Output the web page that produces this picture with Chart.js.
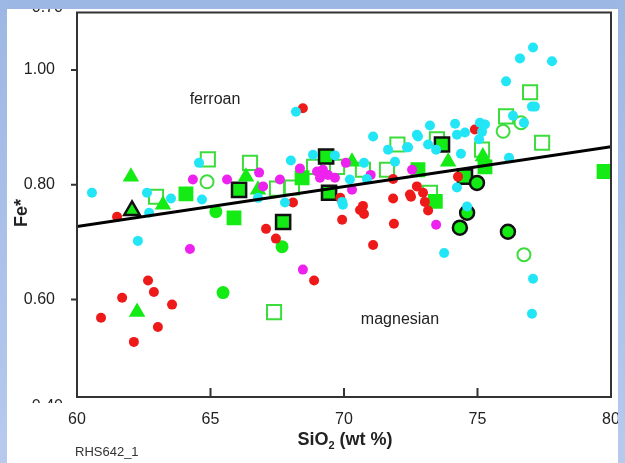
<!DOCTYPE html>
<html>
<head>
<meta charset="utf-8">
<script src="https://cdn.jsdelivr.net/npm/chart.js@4/dist/chart.umd.min.js"></script>
<style>
  html, body { margin: 0; padding: 0; background: #fff; }
  #wrap { position: relative; width: 625px; height: 463px; overflow: hidden; }
  #chart { position: absolute; left: 0; top: 0; }
  .band { position: absolute; z-index: 2; }
  #top { left: 0; top: 0; width: 625px; height: 9px; background: #9db7e4; }
  #left { left: 0; top: 0; width: 7px; height: 463px; background: linear-gradient(#9db7e4, #b7caee); }
  #right { right: 0; top: 0; width: 7px; height: 463px; background: linear-gradient(#9db7e4, #b7caee); }
</style>
</head>
<body>
<div id="wrap">
  <canvas id="chart" width="625" height="463"></canvas>
  <div class="band" id="top"></div>
  <div class="band" id="left"></div>
  <div class="band" id="right"></div>
</div>
<script>
// axis
const xTicks = [60, 65, 70, 75, 80];
const yTicks = [0.60, 0.80, 1.00];

// regression line end points
const trendX = [60, 80];
const trendY = [0.727, 0.866];

// samples, [SiO2, Fe*]
const cyanPts = [
  [60.56, 0.786], [62.62, 0.786], [63.52, 0.776], [62.70, 0.751], [64.68, 0.774], [64.57, 0.838],
  [62.28, 0.702], [66.78, 0.777], [68.01, 0.842], [67.79, 0.769], [68.84, 0.852], [69.66, 0.851],
  [70.22, 0.809], [69.93, 0.770], [69.96, 0.765], [70.75, 0.838], [70.86, 0.810], [71.09, 0.884],
  [71.65, 0.861], [71.91, 0.840], [72.40, 0.865], [72.73, 0.887], [73.22, 0.903], [72.77, 0.884],
  [73.15, 0.870], [73.45, 0.861], [72.36, 0.865], [74.16, 0.906], [74.53, 0.891], [74.23, 0.887],
  [75.09, 0.908], [75.28, 0.905], [75.17, 0.892], [75.06, 0.879], [74.38, 0.854], [76.18, 0.847],
  [77.08, 1.039], [76.59, 1.020], [77.79, 1.015], [76.07, 0.980], [77.04, 0.936], [77.15, 0.936],
  [76.33, 0.920], [76.74, 0.908], [74.23, 0.795], [74.61, 0.762], [73.75, 0.681], [77.08, 0.636],
  [77.04, 0.575], [68.20, 0.927]
];
const redPts = [
  [61.50, 0.744], [68.09, 0.769], [67.08, 0.723], [67.45, 0.706], [69.86, 0.777], [69.93, 0.739],
  [70.71, 0.763], [70.60, 0.756], [70.75, 0.749], [71.09, 0.695], [71.84, 0.810], [71.84, 0.776],
  [71.87, 0.732], [72.51, 0.779], [72.73, 0.797], [72.47, 0.783], [72.96, 0.786], [73.03, 0.770],
  [73.15, 0.755], [74.90, 0.896], [74.27, 0.814], [62.66, 0.633], [62.88, 0.613], [61.69, 0.603],
  [63.56, 0.591], [60.90, 0.568], [63.03, 0.552], [62.13, 0.526], [68.88, 0.633], [68.46, 0.933]
];
const magentaPts = [
  [64.34, 0.809], [65.62, 0.809], [64.23, 0.688], [66.82, 0.821], [66.97, 0.797], [67.60, 0.809],
  [68.35, 0.828], [68.99, 0.823], [69.21, 0.826], [69.40, 0.817], [69.10, 0.812], [69.66, 0.812],
  [70.07, 0.838], [70.30, 0.791], [71.00, 0.817], [72.55, 0.826], [73.45, 0.730], [68.46, 0.652]
];
const greenDots = [[65.20, 0.753], [67.68, 0.692], [65.47, 0.612]];
const greenRingedDots = [[74.98, 0.803], [74.61, 0.751], [74.34, 0.725], [76.14, 0.718]];
const greenRings = [[64.87, 0.805], [75.96, 0.893], [76.63, 0.908], [76.74, 0.678]];
const greenTriangles = [
  [62.02, 0.814], [63.22, 0.765], [66.33, 0.814], [62.25, 0.578], [70.30, 0.840], [73.90, 0.840],
  [75.20, 0.849], [66.78, 0.791]
];
const greenRingedTriangles = [[62.06, 0.755]];
const greenSquares = [
  [64.08, 0.784], [65.88, 0.742], [68.43, 0.812], [72.77, 0.826], [73.42, 0.771], [75.28, 0.831],
  [79.74, 0.823]
];
const greenRingedSquares = [
  [66.07, 0.791], [67.72, 0.735], [69.33, 0.849], [69.44, 0.786], [73.67, 0.870], [74.53, 0.814]
];
const greenOpenSquares = [
  [62.96, 0.779], [64.90, 0.844], [66.48, 0.838], [67.49, 0.793], [68.05, 0.795], [67.38, 0.578],
  [68.88, 0.831], [69.74, 0.831], [70.71, 0.826], [71.61, 0.826], [72.00, 0.870], [73.48, 0.879],
  [73.22, 0.786], [75.17, 0.861], [76.07, 0.919], [76.97, 0.961], [77.42, 0.873]
];

const GREEN = "#14ea14";
const FONT = "'Liberation Sans', Arial, sans-serif";
const toXY = (pts) => pts.map((p) => ({ x: p[0], y: p[1] }));

function scatter(pts, style, radius, fill, border, bw) {
    return {
        type: "scatter",
        data: toXY(pts),
        pointStyle: style,
        pointRadius: radius,
        backgroundColor: fill,
        borderColor: border,
        borderWidth: bw,
    };
}

// frame, ticks and the hand-lettered labels
const decorations = {
    id: "decorations",
    afterDraw(chart) {
        const { ctx, chartArea: a, scales } = chart;
        ctx.save();
        ctx.strokeStyle = "#333";
        ctx.lineWidth = 2;
        ctx.strokeRect(a.left, a.top, a.right - a.left, a.bottom - a.top);

        ctx.beginPath();
        xTicks.slice(1, -1).forEach((v) => {
            const px = scales.x.getPixelForValue(v);
            ctx.moveTo(px, a.bottom);
            ctx.lineTo(px, a.bottom - 9);
        });
        yTicks.forEach((v) => {
            const py = scales.y.getPixelForValue(v);
            ctx.moveTo(a.left, py);
            ctx.lineTo(a.left - 6, py);
        });
        ctx.strokeStyle = "#333";
        ctx.lineWidth = 2;
        ctx.stroke();

        ctx.fillStyle = "#222";
        ctx.textBaseline = "middle";
        ctx.textAlign = "center";
        ctx.font = "16px " + FONT;
        ctx.fillText("ferroan", 215, 100);
        ctx.fillText("magnesian", 400, 320);

        // top label cut by the frame of the slide
        ctx.textAlign = "right";
        ctx.fillText("0.70", 63, 8);

        // bottom label, only its top shows
        ctx.save();
        ctx.beginPath();
        ctx.rect(30, 398, 40, 5);
        ctx.clip();
        ctx.fillText("0.40", 63, 407);
        ctx.restore();

        // axis titles
        ctx.textAlign = "left";
        const t1 = "SiO", t2 = " (wt %)";
        ctx.font = "bold 18px " + FONT;
        const w1 = ctx.measureText(t1).width;
        const w3 = ctx.measureText(t2).width;
        ctx.font = "bold 11px " + FONT;
        const w2 = ctx.measureText("2").width;
        const sx = 345 - (w1 + w2 + w3) / 2;
        ctx.font = "bold 18px " + FONT;
        ctx.fillText(t1, sx, 440);
        ctx.font = "bold 11px " + FONT;
        ctx.fillText("2", sx + w1, 446);
        ctx.font = "bold 18px " + FONT;
        ctx.fillText(t2, sx + w1 + w2, 440);

        ctx.save();
        ctx.translate(22, 213);
        ctx.rotate(-Math.PI / 2);
        ctx.textAlign = "center";
        ctx.fillText("Fe*", 0, 0);
        ctx.restore();

        ctx.font = "13px " + FONT;
        ctx.fillStyle = "#333";
        ctx.textAlign = "left";
        ctx.fillText("RHS642_1", 75, 452);
        ctx.restore();
    },
};

new Chart(document.getElementById("chart"), {
    data: {
        datasets: [
            {
                type: "line",
                data: trendX.map((x, i) => ({ x: x, y: trendY[i] })),
                borderColor: "#000",
                borderWidth: 3,
                pointRadius: 0,
                fill: false,
            },
            scatter(cyanPts, "circle", 5, "#22e6f6", "#22e6f6", 0),
            scatter(magentaPts, "circle", 5, "#ee22ee", "#ee22ee", 0),
            scatter(redPts, "circle", 5, "#ee1a1a", "#ee1a1a", 0),
            scatter(greenRingedDots, "circle", 7, GREEN, "#111", 2.5),
            scatter(greenDots, "circle", 6.5, GREEN, GREEN, 0),
            scatter(greenRingedTriangles, "triangle", 9, GREEN, "#111", 2.5),
            scatter(greenTriangles, "triangle", 9.5, GREEN, GREEN, 0),
            scatter(greenRingedSquares, "rect", 10, GREEN, "#111", 2.5),
            scatter(greenSquares, "rect", 10.5, GREEN, GREEN, 0),
            scatter(greenRings, "circle", 6.5, "rgba(0,0,0,0)", "#3cdc3c", 2),
            scatter(greenOpenSquares, "rect", 10, "rgba(0,0,0,0)", "#3cdc3c", 2),
        ],
    },
    options: {
        responsive: false,
        animation: false,
        layout: { padding: { left: 0, right: 14, top: 11, bottom: 0 } },
        plugins: { legend: { display: false }, tooltip: { enabled: false } },
        scales: {
            x: {
                type: "linear",
                min: 60,
                max: 80,
                afterBuildTicks: (s) => { s.ticks = xTicks.map((v) => ({ value: v })); },
                afterFit: (s) => {
                    s.height = 66;
                    s.paddingLeft = 0;
                    s.paddingRight = 0;
                },
                grid: { display: false },
                border: { display: false },
                ticks: {
                    padding: 5,
                    color: "#222",
                    font: { family: FONT, size: 16 },
                },
            },
            y: {
                type: "linear",
                min: 0.43,
                max: 1.10,
                afterBuildTicks: (s) => { s.ticks = yTicks.map((v) => ({ value: v })); },
                afterFit: (s) => {
                    s.width = 77;
                    s.paddingTop = 0;
                    s.paddingBottom = 0;
                },
                grid: { display: false },
                border: { display: false },
                ticks: {
                    padding: 14,
                    color: "#222",
                    callback: (v) => Number(v).toFixed(2),
                    font: { family: FONT, size: 16 },
                },
            },
        },
    },
    plugins: [decorations],
});
</script>
</body>
</html>
